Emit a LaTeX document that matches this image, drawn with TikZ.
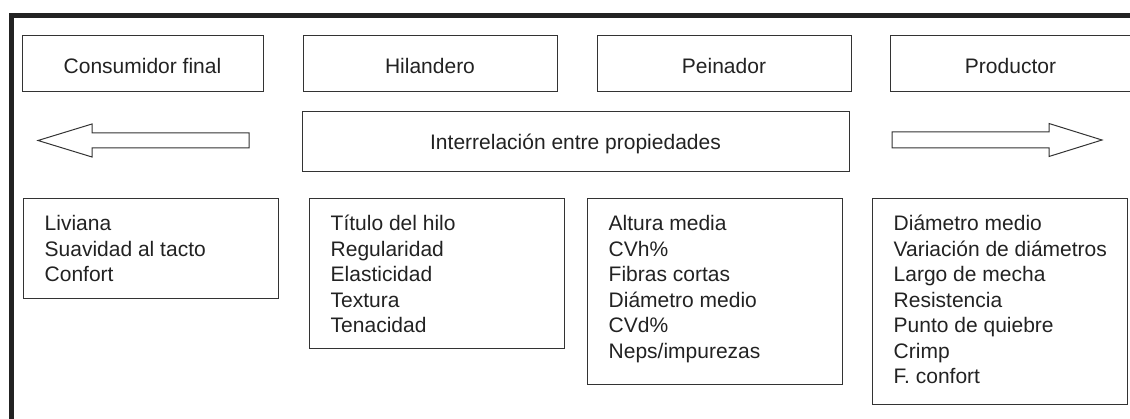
\documentclass[tikz,border=0pt]{standalone}
\usepackage{fontspec}
\setmainfont{Liberation Sans}
\usetikzlibrary{positioning}
\definecolor{tinta}{HTML}{222222}
\definecolor{linea}{HTML}{333333}

\begin{document}
\begin{tikzpicture}[
x=1pt, y=-1pt,
font=\fontsize{21}{25.5}\selectfont,
text=tinta,
caja/.style={
  draw=linea,
  line width=1pt,
  inner sep=0pt,
  minimum height=56pt,
  text height=20pt,
  text depth=0pt
  },
marco/.style={
  draw=linea,
  line width=1pt,
  inner sep=0pt,
  anchor=north west,
  minimum width=255pt
  },
lista/.style={
  inner sep=0pt,
  anchor=base west
  },
flecha/.style={
  draw=linea,
  line width=1pt,
  line join=miter
  }
]
\useasboundingbox (0,0) rectangle (1130,419);
% marco grueso
\draw[line width=5.5pt, tinta] (11.5,419) -- (11.5,15.5) -- (1130,15.5);

% fila de actores
\node[caja, minimum width=241pt] (consumidor) at (142.5,64) {Consumidor final};
\node[caja, minimum width=254pt, right=39pt of consumidor] (hilandero) {Hilandero};
\node[caja, minimum width=254pt, right=39pt of hilandero] (peinador) {Peinador};
\node[caja, minimum width=241pt, right=38pt of peinador] (productor) {Productor};

\node[caja, minimum width=547pt, minimum height=60pt, text height=15pt] (relacion) at (575.5,142) {Interrelación entre propiedades};

% flechas huecas
\draw[flecha] (249,133) -- (92,133) -- (92,124) -- (38,140.5) -- (92,157) -- (92,148) -- (249,148) -- cycle;
\draw[flecha] (892,132) -- (1049,132) -- (1049,123.5) -- (1102,140) -- (1049,156.5) -- (1049,148) -- (892,148) -- cycle;

% propiedades
\node[marco, minimum height=100pt] (cons-lista) at (23,198) {};
\node[marco, minimum height=150pt] (hil-lista) at (309,198) {};
\node[marco, minimum height=186pt] (pei-lista) at (587,198) {};
\node[marco, minimum height=206pt] (pro-lista) at (872,198) {};

\node[lista] (cons-texto) at ([shift={(21.5,33)}]cons-lista.north west)
  {\begin{tabular}[t]{@{}l@{}}Liviana\\Suavidad al tacto\\Confort\end{tabular}};
\node[lista] (hil-texto) at ([shift={(21.5,33)}]hil-lista.north west)
  {\begin{tabular}[t]{@{}l@{}}Título del hilo\\Regularidad\\Elasticidad\\Textura\\Tenacidad\end{tabular}};
\node[lista] (pei-texto) at ([shift={(21.5,33)}]pei-lista.north west)
  {\begin{tabular}[t]{@{}l@{}}Altura media\\CVh\%\\Fibras cortas\\Diámetro medio\\CVd\%\\Neps/impurezas\end{tabular}};
\node[lista] (pro-texto) at ([shift={(21.5,33)}]pro-lista.north west)
  {\begin{tabular}[t]{@{}l@{}}Diámetro medio\\Variación de diámetros\\Largo de mecha\\Resistencia\\Punto de quiebre\\Crimp\\F. confort\end{tabular}};

\end{tikzpicture}
\end{document}
